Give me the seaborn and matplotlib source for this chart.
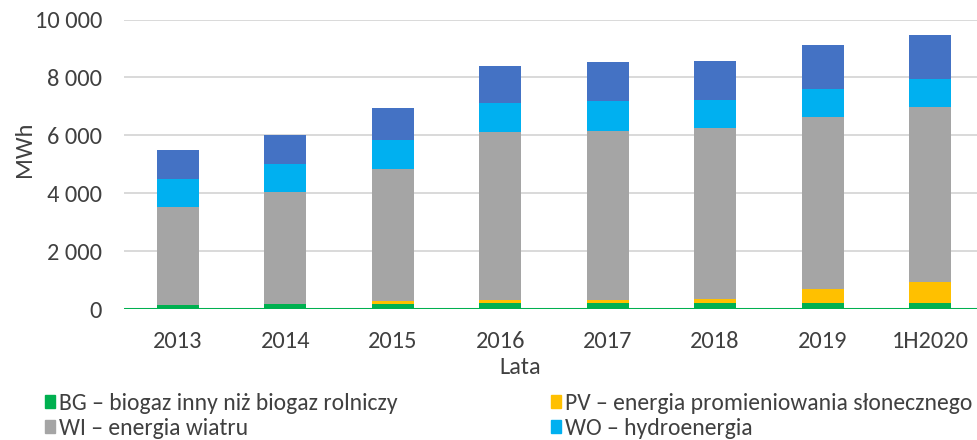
import matplotlib
matplotlib.use("Agg")
import matplotlib.pyplot as plt
import matplotlib.ticker as mticker
from matplotlib.patches import Patch
import seaborn as sns
import pandas as pd
from matplotlib import font_manager

years = ["2013", "2014", "2015", "2016", "2017", "2018", "2019", "1H2020"]
bg = [140, 173, 173, 218, 218, 218, 218, 218]
pv = [0, 0, 93, 93, 93, 127, 484, 703]
wi = [3373, 3868, 4570, 5803, 5849, 5907, 5941, 6067]
wo = [967, 968, 1012, 1012, 1014, 967, 966, 967]
other = [1010, 1011, 1106, 1278, 1358, 1359, 1498, 1510]

labels = {
    "BG": "BG – biogaz inny niż biogaz rolniczy",
    "PV": "PV – energia promieniowania słonecznego",
    "WI": "WI – energia wiatru",
    "WO": "WO – hydroenergia",
}
colors = {"BG": "#00B050", "PV": "#FFC000", "WI": "#A5A5A5", "WO": "#00B0F0", "OT": "#4472C4"}

sns.set_theme(style="white")
avail = {f.name for f in font_manager.fontManager.ttflist}
fams = [f for f in ["Carlito", "Liberation Sans Narrow", "Liberation Sans"] if f in avail]
plt.rcParams["font.family"] = fams + ["DejaVu Sans"]
txtcol = "#404040"
FS = 17.6
LFS = 17.0

df = pd.DataFrame({"year": years, "BG": bg, "PV": pv, "WI": wi, "WO": wo, "OT": other})
order = ["BG", "PV", "WI", "WO", "OT"]
cum = df[order].cumsum(axis=1)

W, H = 978, 440
fig = plt.figure(figsize=(W / 100, H / 100), dpi=100)
ax = fig.add_axes([124.3 / W, 1 - 309 / H, 859.4 / W, 289.5 / H])

for key in reversed(order):
    sns.barplot(x=df["year"], y=cum[key], color=colors[key], width=0.39,
                ax=ax, saturation=1, edgecolor="none", order=years)

ax.set_ylim(0, 10000)
ax.set_xlim(-0.5, 7.5)
ax.yaxis.set_major_locator(mticker.MultipleLocator(2000))
ax.yaxis.set_major_formatter(mticker.FuncFormatter(lambda v, p: f"{int(v):,}".replace(",", " ")))
ax.grid(axis="y", color="#D9D9D9", linewidth=1.4)
ax.set_axisbelow(True)
for s in ["top", "right", "left", "bottom"]:
    ax.spines[s].set_visible(False)
ax.axhline(0, color="#00B050", linewidth=2.2, zorder=5)
ax.tick_params(axis="both", length=0, labelsize=FS, colors=txtcol, pad=16)

ax.set_xlabel("Lata", fontsize=FS, color=txtcol)
ax.xaxis.set_label_coords((520 - 124.3) / 859.4, -(368 - 309) / 289.5)
ax.xaxis.label.set_va("center")
ax.set_ylabel("MWh", fontsize=FS, color=txtcol)
ax.yaxis.set_label_coords((25 - 124.3) / 859.4, (309 - 149) / 289.5)
ax.yaxis.label.set_va("center")

common = dict(frameon=False, fontsize=LFS, handlelength=0.42, handleheight=0.42,
              handletextpad=0.17, labelspacing=0.17, borderpad=0, borderaxespad=0,
              labelcolor=txtcol, loc="upper left")
leg1 = fig.legend([Patch(color=colors["BG"]), Patch(color=colors["WI"])],
                  [labels["BG"], labels["WI"]],
                  bbox_to_anchor=(45 / W, 1 - 393 / H), **common)
leg2 = fig.legend([Patch(color=colors["PV"]), Patch(color=colors["WO"])],
                  [labels["PV"], labels["WO"]],
                  bbox_to_anchor=(551 / W, 1 - 393 / H), **common)

fig.savefig("out.png", dpi=100)
